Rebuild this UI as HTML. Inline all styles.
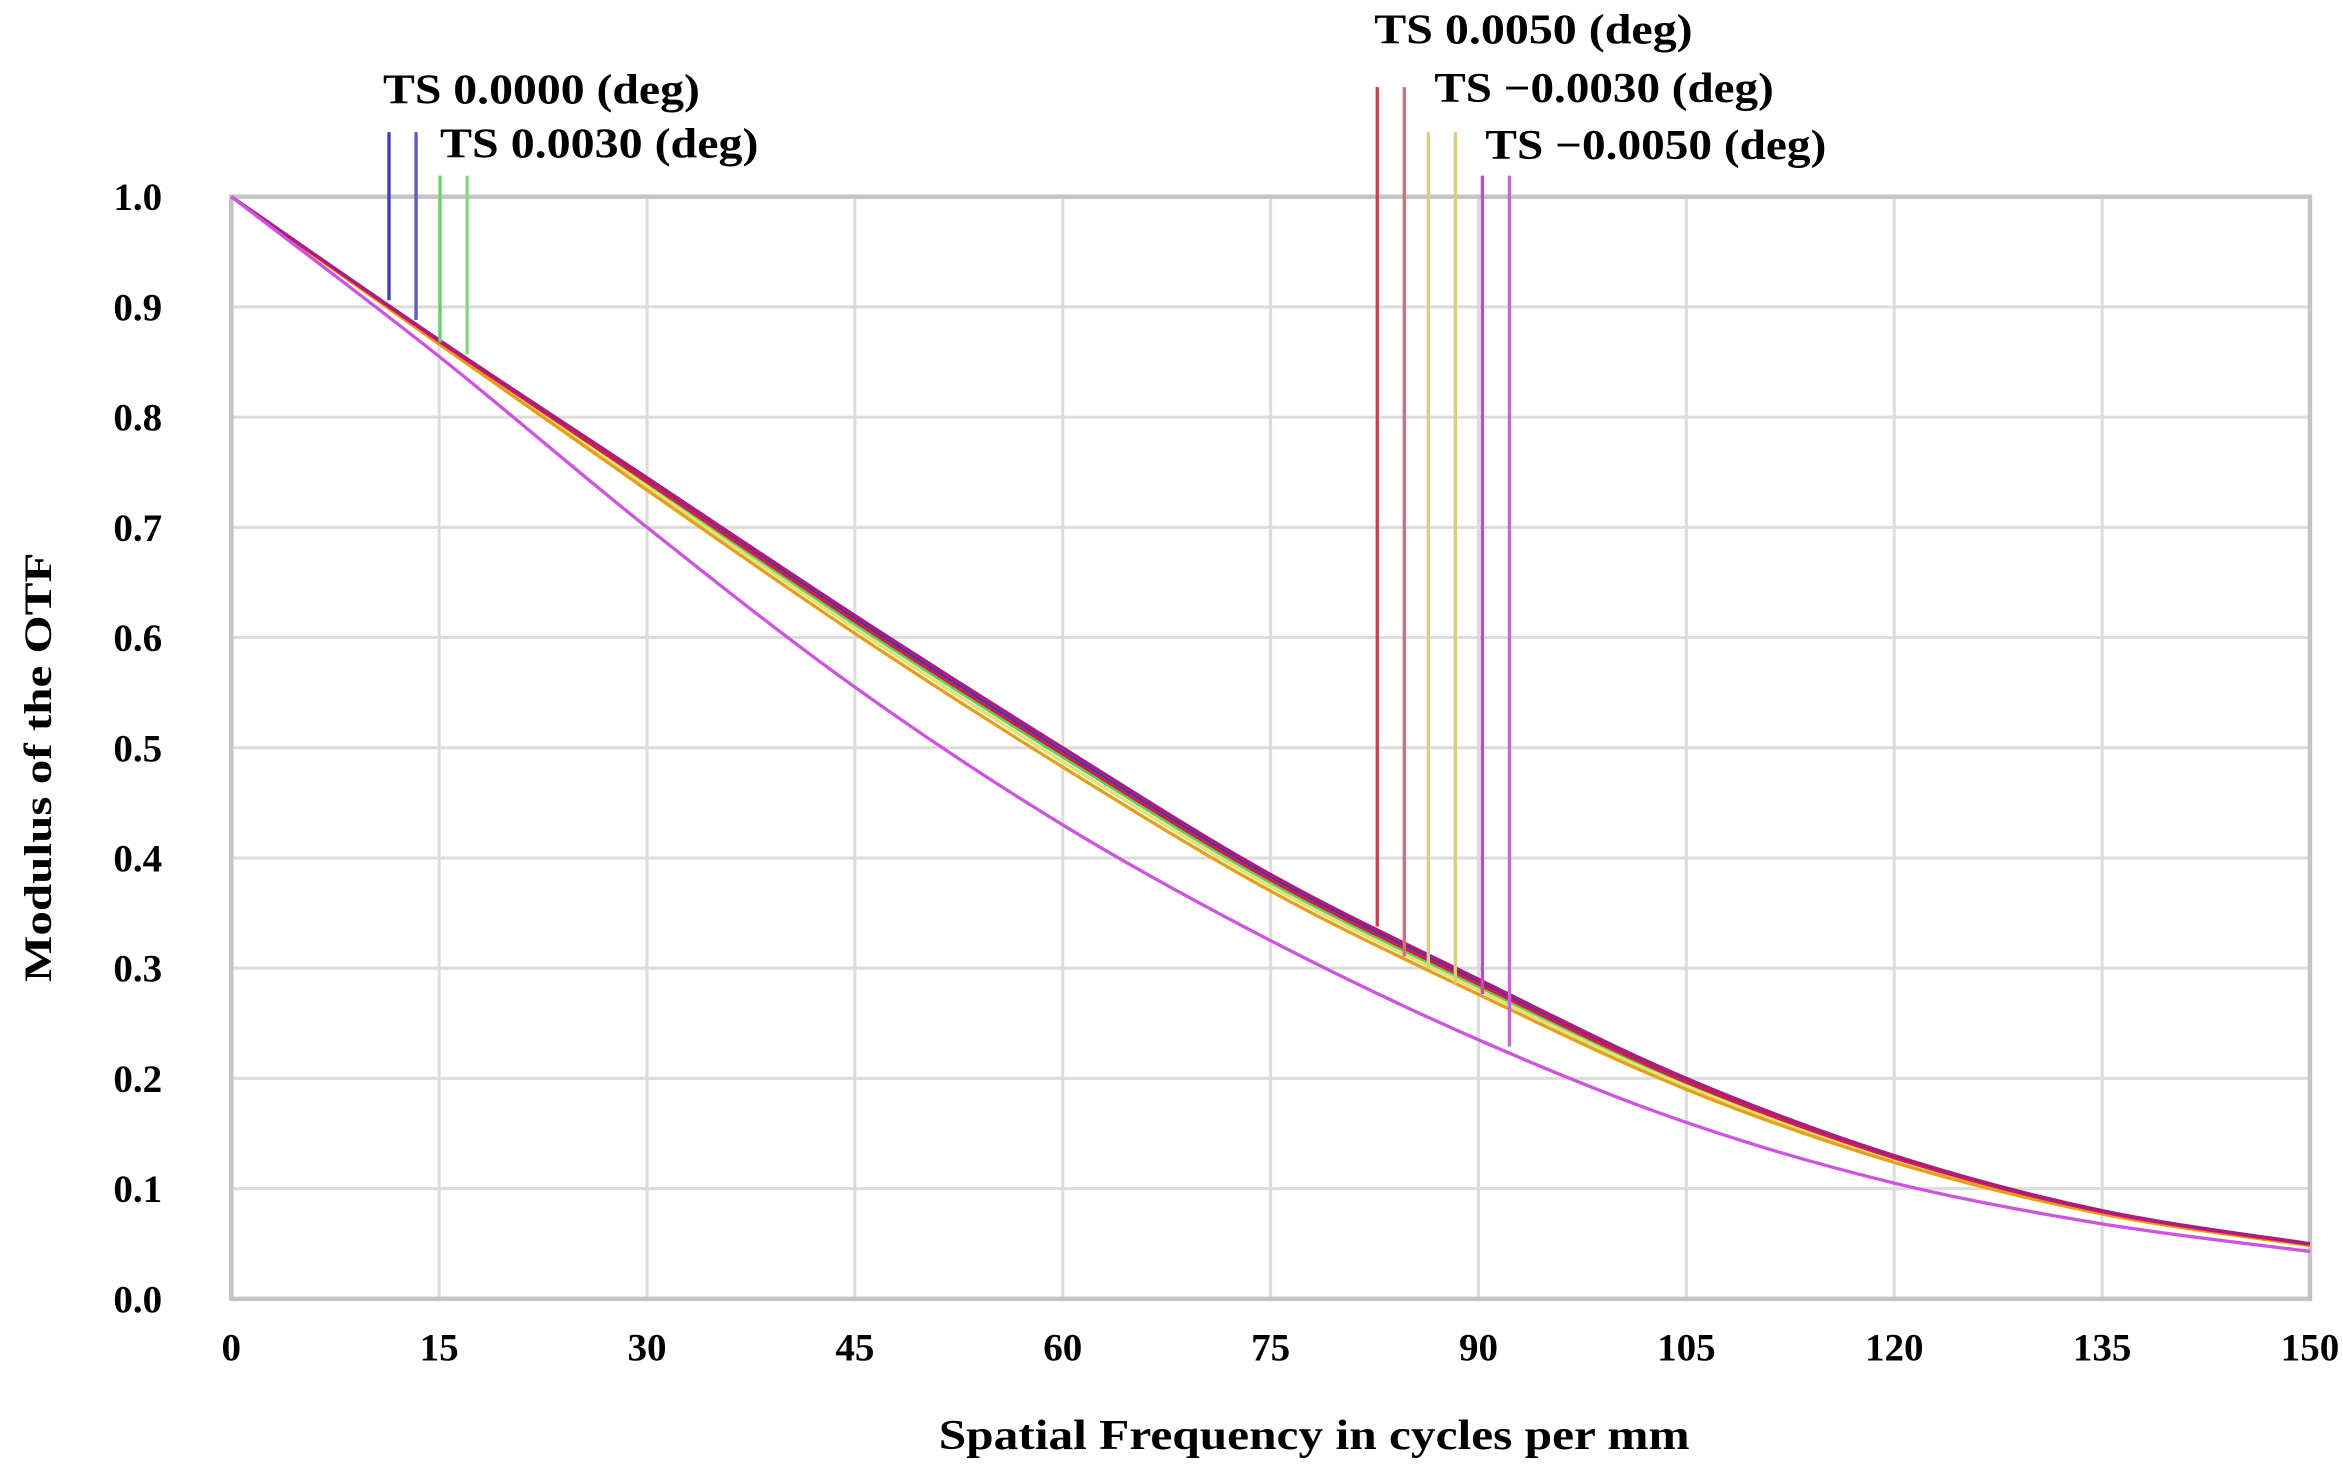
<!DOCTYPE html>
<html><head><meta charset="utf-8"><style>
html,body{margin:0;padding:0;background:#fff;}
svg{display:block;}
text{font-family:"Liberation Serif",serif;font-weight:bold;fill:#000;}
</style></head><body>
<svg id="s" width="2343" height="1473" viewBox="0 0 1560 981" preserveAspectRatio="none" xmlns="http://www.w3.org/2000/svg">
<g id="grid" stroke="#dcdcdc" stroke-width="2" fill="none"></g>
<rect x="154" y="131" width="1384" height="734" fill="none" stroke="#c4c4c4" stroke-width="3"/>
<g id="ticks" font-size="26"></g>
<g id="curves" fill="none" stroke-width="2.2"></g>
<g id="marks" stroke-width="2.2"></g>
<g font-size="28">
<text x="255" y="69" textLength="211" lengthAdjust="spacingAndGlyphs">TS 0.0000 (deg)</text>
<text x="293" y="105" textLength="212" lengthAdjust="spacingAndGlyphs">TS 0.0030 (deg)</text>
<text x="915" y="29" textLength="212" lengthAdjust="spacingAndGlyphs">TS 0.0050 (deg)</text>
<text x="955" y="68" textLength="226" lengthAdjust="spacingAndGlyphs">TS −0.0030 (deg)</text>
<text x="989" y="106" textLength="227" lengthAdjust="spacingAndGlyphs">TS −0.0050 (deg)</text>
<text x="625" y="965" textLength="500" lengthAdjust="spacingAndGlyphs">Spatial Frequency in cycles per mm</text>
<text transform="translate(34,654) rotate(-90)" font-size="26" textLength="286" lengthAdjust="spacingAndGlyphs">Modulus of the OTF</text>
</g>
</svg>
<script>
var ns="http://www.w3.org/2000/svg";
function el(p,t,a,txt){var e=document.createElementNS(ns,t);for(var k in a)e.setAttribute(k,a[k]);if(txt!==undefined)e.textContent=txt;document.getElementById(p).appendChild(e);return e;}
var X0=154,X1=1538,Y1=131,Y0=865;
function X(v){return X0+(X1-X0)*v/150;}
function Y(v){return Y0-(Y0-Y1)*v;}
for(var i=1;i<10;i++){el("grid","line",{x1:X(i*15),x2:X(i*15),y1:Y1,y2:Y0});}
for(var i=1;i<10;i++){el("grid","line",{x1:X0,x2:X1,y1:Y(i/10),y2:Y(i/10)});}
for(var i=0;i<=10;i++){el("ticks","text",{x:X(i*15),y:906,"text-anchor":"middle"},String(i*15));}
for(var i=0;i<=10;i++){el("ticks","text",{x:108,y:Y(i/10)+9,"text-anchor":"end"},(i/10).toFixed(1));}
var hiC=[1,0.87,0.745,0.62,0.50,0.385,0.29,0.20,0.13,0.08,0.05];
var loC=[1,0.855,0.70,0.555,0.43,0.325,0.235,0.16,0.105,0.068,0.043];
function mix(t){return hiC.map(function(v,i){return v+(loC[i]-v)*t;});}
function path(a){var pts=a.map(function(v,i){return[X(i*15),Y(v)];});var d="M"+pts[0][0]+","+pts[0][1];
for(var i=0;i<pts.length-1;i++){var p0=pts[Math.max(0,i-1)],p1=pts[i],p2=pts[i+1],p3=pts[Math.min(pts.length-1,i+2)];
d+=" C"+(p1[0]+(p2[0]-p0[0])/6)+","+(p1[1]+(p2[1]-p0[1])/6)+" "+(p2[0]-(p3[0]-p1[0])/6)+","+(p2[1]-(p3[1]-p1[1])/6)+" "+p2[0]+","+p2[1];}
return d;}
var series=[[0.05,"#3a3ab0"],[0.12,"#5bd05b"],[0.18,"#e8e070"],[0.25,"#e0a020"],[0.08,"#cc2244"],[0.0,"#b01a80"],[1.0,"#cc55dd"]];
series.forEach(function(s){el("curves","path",{d:path(mix(s[0])),stroke:s[1]});});
var m=[[259,88,200,"#3c3cb4"],[277,88,213,"#5858c8"],[293,117,228,"#6ad06a"],[311,117,236,"#80d880"],
[917,58,617,"#c84050"],[935,58,637,"#cc7080"],[951,88,645,"#d8d080"],[969,88,655,"#d8d070"],[987,117,662,"#cc44cc"],[1005,117,697,"#d060d8"]];
m.forEach(function(a){el("marks","line",{x1:a[0],x2:a[0],y1:a[1],y2:a[2],stroke:a[3]});});
</script>
</body></html>
